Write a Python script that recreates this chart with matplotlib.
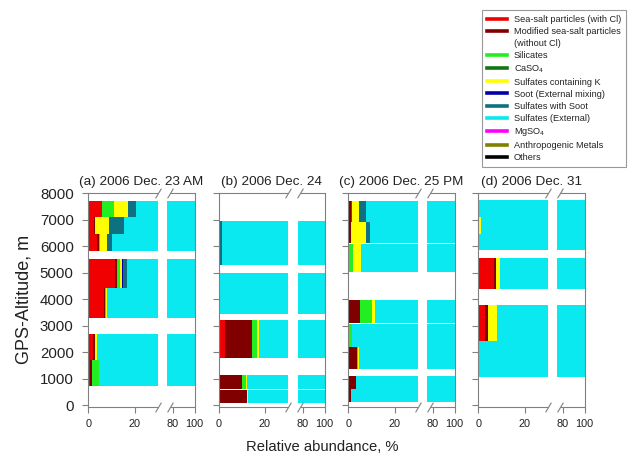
import numpy as np
import matplotlib
matplotlib.use('Agg')
import matplotlib.pyplot as plt
from matplotlib.lines import Line2D
from matplotlib.path import Path

plt.rcParams['font.family'] = ['Liberation Sans', 'DejaVu Sans']

# ---------------- data ----------------
categories = ['Sea-salt particles (with Cl)', 'Modified sea-salt particles',
              'Silicates', 'CaSO$_4$', 'Sulfates containing K',
              'Soot (External mixing)', 'Sulfates with Soot',
              'Sulfates (External)', 'MgSO$_4$', 'Anthropogenic Metals', 'Others']
colors = ['#F00000', '#800000', '#22EE22', '#117711', '#FFFF00', '#0000AA',
          '#0E7080', '#0AE8F0', '#FF00FF', '#808000', '#000000']

titles = ['(a) 2006 Dec. 23 AM', '(b) 2006 Dec. 24', '(c) 2006 Dec. 25 PM', '(d) 2006 Dec. 31']

# columns: SS, MSS, Sil, CaSO4, SulK, Soot, SulSoot, SulExt, MgSO4, Anth, Others
a_bottom = [720, 1720, 3310, 4420, 5820, 6450, 7090]
a_top = [1720, 2710, 4420, 5530, 6450, 7090, 7720]
a_values = [
    [0.6, 0.9, 3.3, 0, 0, 0, 0, 95.2, 0, 0, 0],
    [2.0, 0.7, 0, 0, 1.2, 0, 0, 96.1, 0, 0, 0],
    [6.8, 0.4, 0.6, 0, 0.3, 0, 0, 91.9, 0, 0, 0],
    [11.5, 0.8, 1.2, 0, 1.0, 0.5, 1.8, 83.2, 0, 0, 0],
    [3.9, 0.8, 0.3, 0, 3.1, 0, 2.3, 89.6, 0, 0, 0],
    [2.4, 0.4, 0, 0, 6.0, 0, 6.8, 84.4, 0, 0, 0],
    [5.8, 0, 5.5, 0, 5.7, 0, 3.8, 79.2, 0, 0, 0],
]

b_bottom = [100, 620, 1790, 3440, 5280]
b_top = [590, 1140, 3210, 4980, 6970]
b_values = [
    [0, 12.2, 0, 0, 0.4, 0, 0, 87.4, 0, 0, 0],
    [0, 10.0, 1.9, 0, 0.6, 0, 0, 87.5, 0, 0, 0],
    [2.8, 11.7, 2.0, 0, 1.0, 0, 0, 82.5, 0, 0, 0],
    [0, 0, 0.3, 0, 0, 0, 0, 99.7, 0, 0, 0],
    [0, 0, 0, 0, 0, 0, 1.3, 98.7, 0, 0, 0],
]

c_bottom = [135, 615, 1390, 2215, 3100, 5050, 6110, 6900]
c_top = [615, 1100, 2195, 3070, 3960, 6075, 6900, 7720]
c_values = [
    [0, 1.1, 0, 0, 0, 0, 0, 98.9, 0, 0, 0],
    [0, 3.3, 0, 0, 0, 0, 0, 96.7, 0, 0, 0],
    [0, 3.7, 0.4, 0, 0.5, 0, 0, 95.4, 0, 0, 0],
    [0, 0, 1.8, 0, 0, 0, 0, 98.2, 0, 0, 0],
    [0, 5.1, 5.0, 0, 1.6, 0, 0, 88.3, 0, 0, 0],
    [0, 0, 2.0, 0, 3.5, 0, 0, 94.5, 0, 0, 0],
    [0, 1.3, 0, 0, 6.5, 0, 1.7, 90.5, 0, 0, 0],
    [0, 1.3, 0, 0.5, 3.0, 0, 2.9, 92.3, 0, 0, 0],
]

d_bottom = [1080, 2420, 4400, 5850, 6480, 7115]
d_top = [2420, 3775, 5570, 6480, 7115, 7750]
d_values = [
    [0, 0, 0, 0, 0, 0, 0, 100, 0, 0, 0],
    [2.9, 1.3, 0, 0, 3.9, 0, 0, 91.9, 0, 0, 0],
    [6.9, 0.9, 0, 0, 1.5, 0, 0, 90.7, 0, 0, 0],
    [0, 0, 0, 0, 0, 0, 0, 100, 0, 0, 0],
    [0, 0, 0, 0, 1.2, 0, 0, 98.8, 0, 0, 0],
    [0, 0, 0, 0, 0, 0, 0, 100, 0, 0, 0],
]

x_ticks = [0, 20, 80, 100]
y_ticks = [0, 1000, 2000, 3000, 4000, 5000, 6000, 7000, 8000]

# ---------------- broken-axis scale ----------------
BRK_LO, BRK_HI = 30.0, 75.0
GAP = 4.16
RSCALE = 0.467


def fwd(x):
    x = np.asarray(x, float)
    return np.where(x <= BRK_LO, x,
                    np.where(x >= BRK_HI, BRK_LO + GAP + (x - BRK_HI) * RSCALE,
                             BRK_LO + (x - BRK_LO) * GAP / (BRK_HI - BRK_LO)))


def inv(u):
    u = np.asarray(u, float)
    return np.where(u <= BRK_LO, u,
                    np.where(u >= BRK_LO + GAP, BRK_HI + (u - BRK_LO - GAP) / RSCALE,
                             BRK_LO + (u - BRK_LO) * (BRK_HI - BRK_LO) / GAP))


FRAME = '#808080'
TXT = '#222222'

fig = plt.figure(figsize=(6.35, 4.58), dpi=100)
W, H = 635.0, 458.0
lefts = [88.3, 218.5, 348.3, 478.3]
pw = 106.2
top_px, bot_px = 193.3, 406.5

panels = [(a_bottom, a_top, a_values), (b_bottom, b_top, b_values),
          (c_bottom, c_top, c_values), (d_bottom, d_top, d_values)]

slash = Path([(-0.6, -1.0), (0.6, 1.0)], [Path.MOVETO, Path.LINETO])

for k, (bots, tops, vals) in enumerate(panels):
    ax = fig.add_axes([lefts[k] / W, (H - bot_px) / H, pw / W, (bot_px - top_px) / H])
    ax.set_xscale('function', functions=(fwd, inv))
    ax.set_xlim(0, 100)
    ax.set_ylim(-40, 8000)
    for i in range(len(bots)):
        cum = 0.0
        h = tops[i] - bots[i]
        for j, v in enumerate(vals[i]):
            if v <= 0:
                continue
            lo, hi = cum, cum + v
            if lo < BRK_LO:
                ax.barh(bots[i], min(hi, BRK_LO) - lo, left=lo, height=h,
                        align='edge', color=colors[j], linewidth=0)
            lo2 = max(lo, BRK_HI)
            if hi > lo2:
                ax.barh(bots[i], hi - lo2, left=lo2, height=h,
                        align='edge', color=colors[j], linewidth=0)
            cum = hi
    # frame
    for s in ('top', 'bottom'):
        ax.spines[s].set_visible(False)
    for s in ('left', 'right'):
        ax.spines[s].set_color(FRAME)
        ax.spines[s].set_linewidth(0.8)
    xt = ax.get_xaxis_transform()
    for yy in (0, 1):
        ax.plot([0, BRK_LO], [yy, yy], transform=xt, color=FRAME, lw=0.8,
                clip_on=False, solid_capstyle='butt')
        ax.plot([77, 100], [yy, yy], transform=xt, color=FRAME, lw=0.8,
                clip_on=False, solid_capstyle='butt')
        ax.plot([30.4, 77.5], [yy, yy], transform=xt, linestyle='none',
                marker=slash, ms=7, mew=0.8, color=FRAME, clip_on=False)
    ax.set_xticks(x_ticks)
    ax.set_xticklabels([str(t) for t in x_ticks])
    ax.set_yticks(y_ticks)
    ax.tick_params(axis='x', length=4, width=0.8, color=FRAME, labelsize=7.8,
                   labelcolor=TXT, pad=5)
    ax.tick_params(axis='y', length=4.5, width=0.8, color=FRAME, labelsize=10.8,
                   labelcolor=TXT, pad=6)
    ax.minorticks_off()
    if k > 0:
        ax.set_yticklabels([])
    ax.set_title(titles[k], fontsize=9.7, pad=6, color=TXT)

fig.text(24 / W, 1 - 299.5 / H, 'GPS-Altitude, m', rotation=90, ha='center',
         va='center', fontsize=13, color=TXT)
fig.text(322.5 / W, 1 - 446.7 / H, 'Relative abundance, %', ha='center',
         va='center', fontsize=10.6, color=TXT)

handles = []
labels = []
for j, (lab, c) in enumerate(zip(categories, colors)):
    handles.append(Line2D([0], [0], color=c, lw=2.6))
    labels.append(lab)
    if j == 1:
        handles.append(Line2D([0], [0], color='none', lw=0))
        labels.append('(without Cl)')
leg = fig.legend(handles, labels, loc='upper left',
                 bbox_to_anchor=(481.7 / W, 1 - 10 / H), borderaxespad=0,
                 fontsize=6.6, frameon=True, fancybox=False, edgecolor=FRAME,
                 handlelength=2.2, handletextpad=0.75, labelspacing=0.33,
                 borderpad=0.55)
leg.get_frame().set_linewidth(0.8)
for t in leg.get_texts():
    t.set_color(TXT)

fig.savefig('out.png', dpi=100)
